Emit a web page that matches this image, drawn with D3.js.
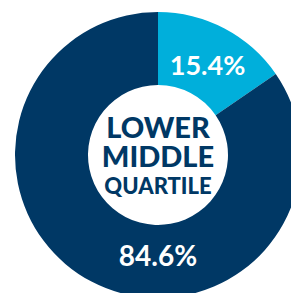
<!DOCTYPE html>
<html><head><meta charset="utf-8">
<script src="https://cdn.jsdelivr.net/npm/d3@7"></script>
<style>html,body{margin:0;padding:0;background:#fff;overflow:hidden}</style>
</head><body>
<svg id="chart" width="291" height="293"></svg>
<script>
const categories = ["Other", "Lower middle quartile"];
const values = [15.4, 84.6];
const labels = ["15.4%", "84.6%"];
const centerLines = ["LOWER", "MIDDLE", "QUARTILE"];
const colors = ["#00afdb", "#003865"];

const svg = d3.select("#chart");
const cx = 158, cy = 155, rOuter = 143, rInner = 70;
const g = svg.append("g").attr("transform", `translate(${cx},${cy})`);
const pie = d3.pie().sort(null).value(d => d)(values);
const arc = d3.arc().innerRadius(rInner).outerRadius(rOuter);
g.selectAll("path").data(pie).join("path")
  .attr("d", arc).attr("fill", (d, i) => colors[i]);

const font = "Lato, sans-serif";
// light slice label at centroid
const c0 = arc.centroid(pie[0]);
g.append("text").attr("x", c0[0]).attr("y", c0[1] + 4)
  .attr("text-anchor", "middle").attr("dominant-baseline", "central")
  .attr("fill", "#fff").attr("font-family", font).attr("font-weight", 700)
  .attr("font-size", 27).text(labels[0]);
// dark slice label at bottom
const midR = (rInner + rOuter) / 2;
const c1 = d3.arc().innerRadius(midR).outerRadius(midR).centroid({startAngle: Math.PI, endAngle: Math.PI});
g.append("text").attr("x", c1[0]).attr("y", c1[1] - 7)
  .attr("text-anchor", "middle").attr("dominant-baseline", "central")
  .attr("fill", "#fff").attr("font-family", font).attr("font-weight", 700)
  .attr("font-size", 28).text(labels[1]);

const sizes = [29, 29, 22];
const ys = [-17, 12, 39];
centerLines.forEach((t, i) => {
  g.append("text").attr("x", 0).attr("y", ys[i])
    .attr("text-anchor", "middle")
    .attr("fill", colors[1]).attr("font-family", font).attr("font-weight", 900)
    .attr("font-size", sizes[i]).text(t);
});
</script>
</body></html>
